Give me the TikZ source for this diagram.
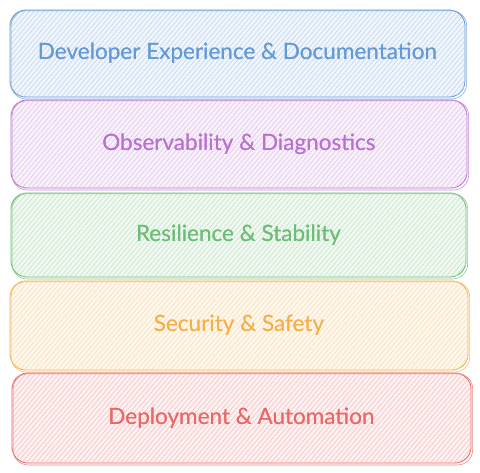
\documentclass[tikz,border=0pt]{standalone}
\usepackage{fontspec}
\setmainfont{Lato}
\usetikzlibrary{patterns.meta}
\definecolor{cblue}{RGB}{100,153,214}
\definecolor{cpurple}{RGB}{185,112,208}
\definecolor{cgreen}{RGB}{108,188,118}
\definecolor{corange}{RGB}{246,176,72}
\definecolor{cred}{RGB}{232,104,104}
\tikzset{
  layer/.style={draw=#1, line width=0.9pt, rounded corners=16pt, fill=#1!10,
    font=\fontsize{22.5}{24}\selectfont, text=#1, inner sep=0pt},
  hatch/.style={pattern={Lines[angle=50,distance=3.6pt,line width=0.5pt]}, pattern color=#1!45},
  sketch/.style={draw=#1!80, line width=0.6pt, rounded corners=15pt},
}
\newcommand{\layerbox}[6]{%
  \node[layer=#1, minimum width=#4pt, minimum height=#5pt] (#2) at (#3) {#6};
  \fill[hatch=#1, rounded corners=16pt] (#2.north west) rectangle (#2.south east);
  \node[text=#1, font=\fontsize{22.5}{24}\selectfont] at (#2.center) {#6};
  \draw[sketch=#1] ([shift={(1.5pt,-1.2pt)}]#2.north west) rectangle ([shift={(1.2pt,-1.5pt)}]#2.south east);
}
\begin{document}
\begin{tikzpicture}[x=1pt,y=-1pt]
\useasboundingbox (0,0) rectangle (480,472);
\fill[white] (0,0) rectangle (480,472);
\layerbox{cblue}{dev}{237.5,53.5}{455}{87}{Developer Experience \& Documentation}
\layerbox{cpurple}{obs}{239,144}{456}{88}{Observability \& Diagnostics}
\layerbox{cgreen}{res}{238.5,235}{455}{84}{Resilience \& Stability}
\layerbox{corange}{sec}{239,325.5}{458}{89}{Security \& Safety}
\layerbox{cred}{dep}{241.5,418}{459}{90}{Deployment \& Automation}
\end{tikzpicture}
\end{document}
